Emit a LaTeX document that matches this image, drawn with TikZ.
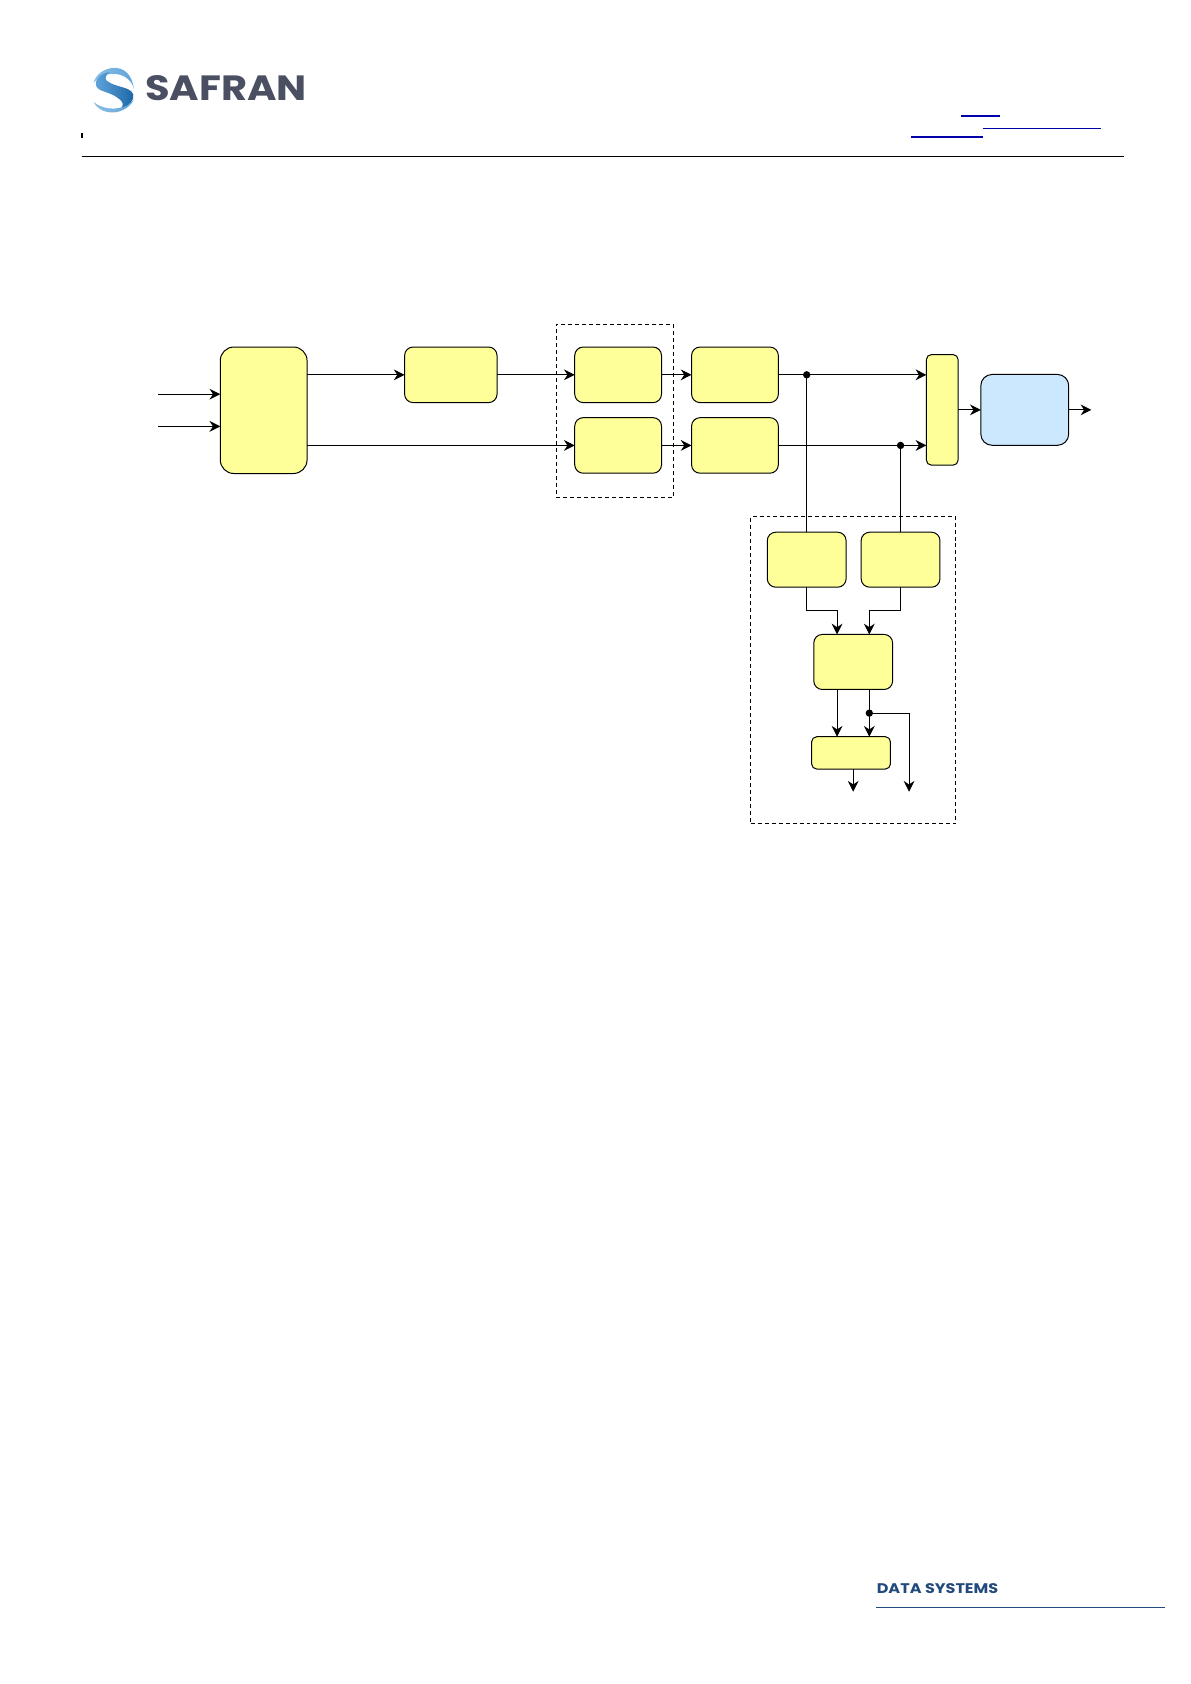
\documentclass[tikz,border=0pt]{standalone}
\usepackage{fontspec}
\usepackage{xcolor}
\newfontfamily\logofont{Poppins}
\definecolor{boxyellow}{HTML}{FFFF99}
\definecolor{boxblue}{HTML}{CCE8FF}
\definecolor{logogrey}{HTML}{4A4F62}
\definecolor{logonavy}{HTML}{234A7C}
\definecolor{linkblue}{HTML}{0000AA}
\definecolor{swooshlight}{HTML}{8CC0E8}
\definecolor{swooshmid}{HTML}{5FA3DA}
\definecolor{swooshdark}{HTML}{1C66A6}
\usetikzlibrary{positioning, arrows.meta}

\begin{document}
\begin{tikzpicture}[
        every path/.style={line width=0.5pt},
        block/.style={rectangle, draw, rounded corners=0.15cm, fill=boxyellow, inner sep=0pt, outer sep=0pt, minimum width=1.53cm, minimum height=0.98cm},
        tallblock/.style={block, rounded corners=0.24cm, minimum height=2.23cm},
        wideblock/.style={block, minimum width=1.63cm},
        smallblock/.style={block, minimum width=1.39cm, minimum height=0.97cm},
        flatblock/.style={block, rounded corners=0.09cm, minimum width=1.39cm, minimum height=0.57cm},
        muxblock/.style={block, rounded corners=0.09cm, minimum width=0.56cm, minimum height=1.95cm},
        outblock/.style={block, rounded corners=0.2cm, fill=boxblue, minimum width=1.55cm, minimum height=1.25cm},
        group/.style={rectangle, draw, dash pattern=on 2pt off 1.5pt, inner sep=0pt, outer sep=0pt},
        junction/.style={circle, fill=black, inner sep=0pt, outer sep=0pt, minimum size=0.13cm},
        arrow/.style={-{Stealth[length=0.19cm, width=0.19cm]}},
        rule/.style={draw=linkblue}
    ]
    \useasboundingbox (0,0) rectangle (21,-29.693);
%
    % Entete
    \shade[left color=swooshlight, right color=swooshmid] (1.65,-1.46)
        .. controls (1.72,-1.16) and (2.30,-1.02) .. (2.36,-1.57)
        .. controls (2.30,-1.28) and (1.88,-1.20) .. (1.65,-1.46) -- cycle;
    \shade[left color=swooshlight, right color=swooshmid] (1.65,-1.80)
        .. controls (1.78,-2.05) and (2.20,-2.05) .. (2.36,-1.76)
        .. controls (2.18,-1.96) and (1.85,-1.96) .. (1.65,-1.80) -- cycle;
    \shade[left color=swooshmid, right color=swooshdark] (1.94,-1.27)
        .. controls (1.75,-1.30) and (1.68,-1.40) .. (1.69,-1.50)
        .. controls (1.72,-1.63) and (1.94,-1.60) .. (2.12,-1.76)
        .. controls (2.17,-1.81) and (2.18,-1.86) .. (2.15,-1.90)
        .. controls (2.27,-1.86) and (2.37,-1.78) .. (2.35,-1.67)
        .. controls (2.31,-1.52) and (2.03,-1.55) .. (1.88,-1.42)
        .. controls (1.84,-1.38) and (1.87,-1.31) .. (1.94,-1.27) -- cycle;
    \node[anchor=base west, inner sep=0pt, text=logogrey, xscale=1.14, transform shape, font=\logofont\bfseries\fontsize{17.6}{18}\selectfont] (safran) at (2.55,-1.78) {SAFRAN};
    \fill (1.42,-2.35) rectangle (1.46,-2.44);
    \draw[rule, line width=1pt] (16.95,-2.04) -- (17.63,-2.04);
    \draw[rule] (17.33,-2.27) -- (19.41,-2.27);
    \draw[rule, line width=1pt] (16.06,-2.41) -- (17.33,-2.41);
    \draw (1.44,-2.755) -- (19.81,-2.755);
%
    % Chaine principale
    \node[tallblock] (source) at (4.649,-7.234) {};
    \node[wideblock, right=1.72cm of source.north east, anchor=north west] (filter) {};
    \node[block, right=1.37cm of filter.north east, anchor=north west] (proca) {};
    \node[block, below=0.265cm of proca] (procb) {};
    \node[block, right=0.53cm of proca.north east, anchor=north west] (conva) {};
    \node[block, below=0.265cm of conva] (convb) {};
    \node[muxblock, right=2.61cm of conva.north east, anchor=north west, yshift=-0.133cm] (mux) {};
    \node[outblock, right=0.4cm of mux] (output) {};
%
    % Groupes en pointilles
    \node[group, minimum width=2.06cm, minimum height=3.05cm] (grpa) at (10.841,-7.243) {};
    \node[group, minimum width=3.617cm, minimum height=5.416cm] (grpb) at (15.045,-11.816) {};
%
    % Retour
    \node[smallblock, below=1.04cm of convb, xshift=1.265cm] (mona) {};
    \node[smallblock, right=0.265cm of mona] (monb) {};
    \node[smallblock, below=0.833cm of mona, xshift=0.82cm] (compare) {};
    \node[flatblock, below=0.833cm of compare, xshift=-0.038cm] (detect) {};
%
    % Entrees et sorties libres
    \coordinate (ina) at ([xshift=-1.1cm, yshift=0.284cm]source.west);
    \coordinate (inb) at ([xshift=-1.1cm, yshift=-0.284cm]source.west);
    \coordinate (outa) at ([xshift=0.4cm]output.east);
    \coordinate (cmpa) at ([xshift=-0.284cm]compare.north);
    \coordinate (cmpb) at ([xshift=0.284cm]compare.north);
    \coordinate (cmpc) at (cmpa |- compare.south);
    \coordinate (cmpd) at (cmpb |- compare.south);
    \coordinate (detin) at ([xshift=0.038cm]detect.south);
    \coordinate (detout) at ([yshift=-0.4cm]detin);
%
    % Points de jonction
    \node[junction] (ja) at (mona.north |- conva.east) {};
    \node[junction] (jb) at (monb.north |- convb.east) {};
    \node[junction, below=0.417cm of cmpd, anchor=center] (jc) {};
    \coordinate (jcr) at ([xshift=0.70cm]jc.center);
    \coordinate (tap) at (jcr |- detout);
%
    % Lignes
    \draw[arrow] (ina) -- (ina -| source.west);
    \draw[arrow] (inb) -- (inb -| source.west);
    \draw[arrow] (source.east |- filter.west) -- (filter.west);
    \draw[arrow] (filter.east) -- (proca.west);
    \draw[arrow] (source.east |- procb.west) -- (procb.west);
    \draw[arrow] (proca.east) -- (conva.west);
    \draw[arrow] (procb.east) -- (convb.west);
    \draw[arrow] (conva.east) -- (mux.west |- conva.east);
    \draw[arrow] (convb.east) -- (mux.west |- convb.east);
    \draw[arrow] (mux.east) -- (output.west);
    \draw[arrow] (output.east) -- (outa);
%
    \draw (mona.north) -- (ja.center);
    \draw (monb.north) -- (jb.center);
    \draw[arrow] (mona.south) -- ++(0,-0.417) -| (cmpa);
    \draw[arrow] (monb.south) -- ++(0,-0.417) -| (cmpb);
    \draw[arrow] (cmpc) -- (cmpc |- detect.north);
    \draw[arrow] (cmpd) -- (cmpd |- detect.north);
    \draw[arrow] (jc.center) -| (tap);
    \draw[arrow] (detin) -- (detout);
%
    % Pied de page
    \node[anchor=base west, inner sep=0pt, text=logonavy, xscale=1.15, transform shape, font=\logofont\bfseries\fontsize{7}{8}\selectfont] (brand) at (15.45,-28.1) {DATA SYSTEMS};
    \draw[draw=logonavy] (15.45,-28.347) -- (20.55,-28.347);
%
\end{tikzpicture}
\end{document}
